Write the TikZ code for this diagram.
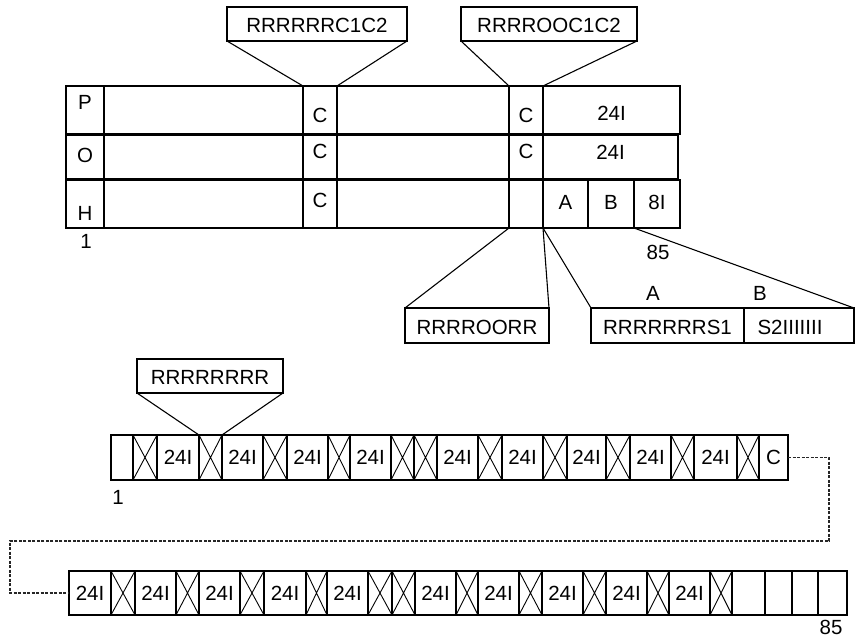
\documentclass[tikz,border=0pt]{standalone}
\usepackage{fontspec}
\setmainfont{Liberation Sans}
\newcommand{\cel}[8][cellst]{%
  \pgfmathsetmacro\mycw{#5-#3}\pgfmathsetmacro\mych{#6-#4}%
  \pgfmathsetmacro\mycx{(#3+#5)/2}\pgfmathsetmacro\mycy{(#4+#6)/2}%
  \node[#1,minimum width=\mycw pt,minimum height=\mych pt] (#2) at (\mycx,\mycy) {};%
  \if\relax\detokenize{#7}\relax\else
  \node[txt] (#2-t) at ({\mycx},{\mycy+(#8)}) {#7};\fi}
\newcommand{\mycelltext}{}
\begin{document}
\begin{tikzpicture}[x=1pt,y=-1pt,
  font=\fontsize{20.5}{24}\selectfont,
  cellst/.style={draw,line width=1.6pt,inner sep=0pt,outer sep=0pt},
  thickst/.style={draw,line width=2.4pt,inner sep=0pt,outer sep=0pt},
  callout/.style={draw,line width=1.6pt,inner sep=0pt,outer sep=0pt},
  txt/.style={inner sep=0pt},
  conn/.style={line width=1.1pt},
  dashline/.style={line width=1.1pt,draw=black!85,dash pattern=on 3pt off 1.5pt},
  xcross/.style={path picture={\draw[line width=0.9pt] (path picture bounding box.north west)--(path picture bounding box.south east) (path picture bounding box.north east)--(path picture bounding box.south west);}},
  celltext/.code={\def\mycelltext{#1}},
  ke/.style={cellst,celltext={}},
  kx/.style={cellst,xcross,celltext={}},
  kt/.style={cellst,celltext={24I}},
  kC/.style={cellst,celltext={C}},
  typ/.code={\edef\mytypname{k#1}\expandafter\pgfkeysalso\expandafter{\mytypname}}]
\useasboundingbox (0,0) rectangle (855,640);

% ---- top table ----
% row 1
\cel{r1c1}{303}{86}{337}{134}{C}{5}
\cel{r1c2}{509}{86}{543}{134}{C}{5}
\cel{r1d}{543}{86}{680}{134}{24I}{3}
\cel[thickst]{row1}{66}{86}{680}{134}{}{0}
\cel[thickst]{r1P}{66}{86}{104}{134}{P}{-8}
% row 2
\cel{r2c1}{303}{135}{337}{179}{C}{-6}
\cel{r2c2}{509}{135}{543}{179}{C}{-6}
\cel{r2d}{543}{135}{678}{179}{24I}{-5}
\cel[thickst]{row2}{66}{135}{678}{179}{}{0}
\cel[thickst]{r2O}{66}{135}{104}{179}{O}{-2}
% row 3
\cel{r3c1}{303}{180}{337}{228}{C}{-4}
\cel{r3e}{509}{180}{543}{228}{}{0}
\cel{r3A}{543}{180}{588}{228}{A}{-2}
\cel{r3B}{588}{180}{634}{228}{B}{-2}
\cel{r38}{634}{180}{680}{228}{8I}{-2}
\cel[thickst]{row3}{66}{180}{680}{228}{}{0}
\cel[thickst]{r3H}{66}{180}{104}{228}{H}{9}

\node[txt] (one1) at (86,241) {1};
\node[txt] (n85a) at (658,252) {85};
\node[txt] (lA) at (653,293) {A};
\node[txt] (lB) at (760,293) {B};

% ---- callouts ----
\cel[callout]{bA}{227}{7}{407}{41}{RRRRRRC1C2}{1}
\cel[callout]{bB}{461}{7}{637}{41}{RRRROOC1C2}{1}
\cel[callout]{bC}{405}{308}{549}{343}{RRRROORR}{1.5}
\cel[callout]{bD}{591}{308}{744}{343}{RRRRRRRS1}{1.5}
\cel[callout]{bE}{744}{308}{854}{343}{}{0}
\node[txt] (bE-t) at (790,327) {S2IIIIIII};
\cel[callout]{bF}{137}{359}{283}{393}{RRRRRRRR}{1}

% ---- strip 1 ----
\foreach \a/\b/\k [count=\i] in {111/133/e,133/157/x,157/199/t,199/222/x,222/263/t,263/287/x,287/328/t,328/350/x,350/391/t,391/414/x,414/437/x,437/478/t,478/502/x,502/543/t,543/567/x,567/606/t,606/630/x,630/671/t,671/694/x,694/737/t,737/759/x,759/788/C}{
  \pgfmathsetmacro\mycw{\b-\a}\pgfmathsetmacro\mycx{(\a+\b)/2}
  \node[typ=\k,minimum width=\mycw pt,minimum height=45pt] (s1-\i) at (\mycx,457.5) {\mycelltext};
}
\cel[thickst]{strip1}{111}{435}{788}{480}{}{0}
\node[txt] (one2) at (118,497) {1};

% ---- strip 2 ----
\foreach \a/\b/\k [count=\i] in {69/111/t,111/135/x,135/176/t,176/199/x,199/240/t,240/264/x,264/306/t,306/327/x,327/368/t,368/392/x,392/415/x,415/456/t,456/478/x,478/519/t,519/542/x,542/583/t,583/606/x,606/647/t,647/669/x,669/710/t,710/732/x,732/765/e,765/792/e,792/818/e,818/847/e}{
  \pgfmathsetmacro\mycw{\b-\a}\pgfmathsetmacro\mycx{(\a+\b)/2}
  \node[typ=\k,minimum width=\mycw pt,minimum height=44pt] (s2-\i) at (\mycx,593) {\mycelltext};
}
\cel[thickst]{strip2}{69}{571}{847}{615}{}{0}
\node[txt] (n85b) at (831,627) {85};

% ---- connectors ----
\draw[conn] (bA.south west) -- (r1c1.north west);
\draw[conn] (bA.south east) -- (r1c1.north east);
\draw[conn] (bB.south west) -- (r1c2.north west);
\draw[conn] (bB.south east) -- (r1c2.north east);
\draw[conn] (r3e.south west) -- (bC.north west);
\draw[conn] (r3e.south east) -- (bC.north east);
\draw[conn] (r3e.south east) -- (bD.north west);
\draw[conn] (r38.south west) -- (bE.north east);
\draw[conn] (bF.south west) -- (s1-4.north west);
\draw[conn] (bF.south east) -- (s1-4.north east);

\coordinate (dA) at (829,541);
\coordinate (dB) at (10,541);
\draw[dashline] (s1-22.east) -| (dA) -- (dB) |- (s2-1.west);
\end{tikzpicture}
\end{document}
